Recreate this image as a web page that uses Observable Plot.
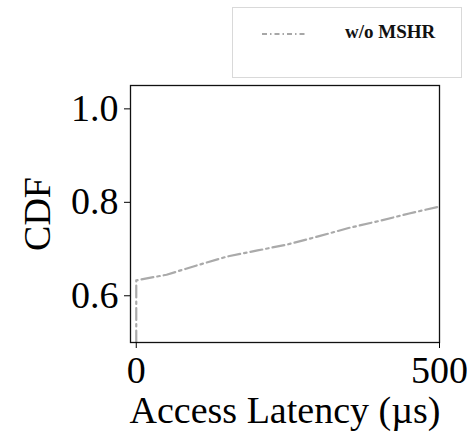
<!DOCTYPE html>
<html>
<head>
<meta charset="utf-8">
<script src="https://cdn.jsdelivr.net/npm/d3@7"></script>
<script src="https://cdn.jsdelivr.net/npm/@observablehq/plot@0.6"></script>
<style>
  html, body { margin: 0; padding: 0; background: white; }
  #wrap { position: relative; width: 467px; height: 437px; overflow: hidden; }
  #legend {
    position: absolute; left: 232px; top: 7px; width: 230px; height: 71px;
    border: 1px solid #d9d9d9; background: white; box-sizing: border-box;
  }
  #legend svg { position: absolute; left: 28px; top: 20px; }
  #legend span {
    position: absolute; left: 112px; top: 13px;
    font-family: "Liberation Serif", "Times New Roman", serif; font-weight: bold; font-size: 19px; color: #111;
  }
</style>
</head>
<body>
<div id="wrap"></div>
<script>
// Data
const seriesName = "w/o MSHR";
const latency = [0, 0, 0, 50, 100, 150, 200, 250, 300, 350, 400, 450, 500];
const cdf = [0.5, 0.625, 0.633, 0.645, 0.665, 0.684, 0.697, 0.710, 0.727, 0.745, 0.760, 0.776, 0.791];
const xTicks = [0, 500];
const yTicks = [0.6, 0.8, 1.0];

const data = latency.map((x, i) => ({ x, y: cdf[i] }));
const font = "'Liberation Serif', 'Times New Roman', serif";

const chart = Plot.plot({
  width: 467,
  height: 437,
  marginLeft: 130,
  marginRight: 28,
  marginTop: 85,
  marginBottom: 95,
  style: { fontFamily: font, fontSize: "38px", background: "white", color: "black", overflow: "visible" },
  x: { domain: [-9.5, 500] },
  y: { domain: [0.5, 1.05] },
  marks: [
    Plot.line(data, { x: "x", y: "y", stroke: "#aaaaaa", strokeWidth: 2.2, strokeDasharray: "12,4,2.5,4", clip: true }),
    Plot.frame({ stroke: "#111", strokeWidth: 1.3 }),
    Plot.axisX({ ticks: xTicks, tickFormat: d => String(d), tickSize: 6, tickPadding: 8, fontSize: 38,
      label: "Access Latency (µs)", labelAnchor: "center", labelArrow: "none", labelOffset: 80 }),
    Plot.axisY({ ticks: yTicks, tickFormat: d3.format(".1f"), tickSize: 6, tickPadding: 6, fontSize: 38,
      label: "CDF", labelAnchor: "center", labelArrow: "none", labelOffset: 107 })
  ]
});

const wrap = document.getElementById("wrap");
wrap.appendChild(chart);

const legend = document.createElement("div");
legend.id = "legend";
legend.innerHTML = `<svg width="48" height="12"><line x1="1" y1="6" x2="46" y2="6" stroke="#8a8a8a" stroke-width="1.6" stroke-dasharray="5,3,1.5,3"/></svg><span>${seriesName}</span>`;
wrap.appendChild(legend);
</script>
</body>
</html>
